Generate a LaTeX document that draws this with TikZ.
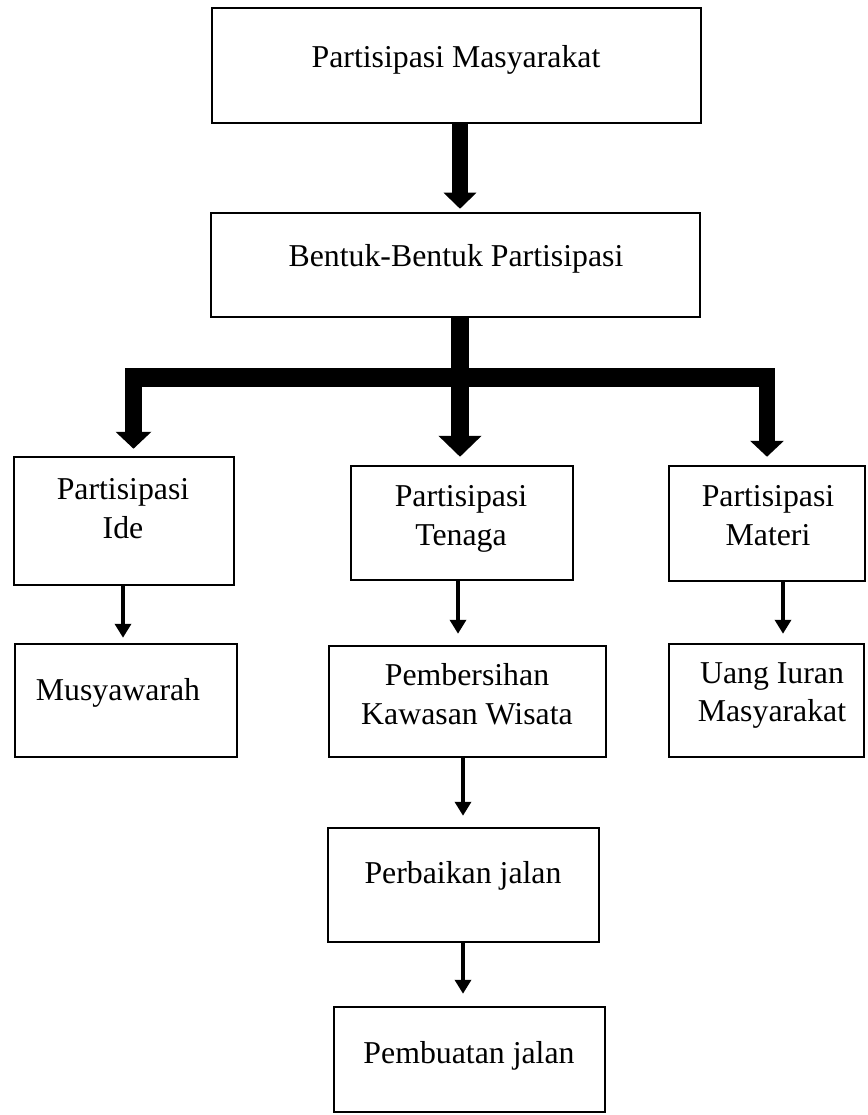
\documentclass[tikz,border=0pt]{standalone}
\usepackage{fontspec}
\setmainfont{Liberation Serif}
\usetikzlibrary{arrows.meta}
\begin{document}
\begin{tikzpicture}[x=1pt,y=-1pt,
  box/.style={draw=black,line width=2.5pt,inner sep=0pt,rectangle},
  txt/.style={inner sep=0pt,align=center,font=\fontsize{31.8}{38.5}\selectfont},
  thin/.style={line width=4pt,-{Triangle[width=16pt,length=14pt]}},
  fat/.style={line width=16pt}
]
\useasboundingbox (0,0) rectangle (867,1115);
% boxes
\node[box,minimum width=489pt,minimum height=115pt] (b1) at (456.5,65.5) {};
\node[box,minimum width=489pt,minimum height=104pt] (b2) at (455.5,265) {};
\node[box,minimum width=220pt,minimum height=128pt] (ide) at (124,521) {};
\node[box,minimum width=222pt,minimum height=114pt] (ten) at (462,523) {};
\node[box,minimum width=196pt,minimum height=115pt] (mat) at (767,523.5) {};
\node[box,minimum width=222pt,minimum height=113pt] (mus) at (126,700.5) {};
\node[box,minimum width=277pt,minimum height=111pt] (pem) at (467.5,701.5) {};
\node[box,minimum width=195pt,minimum height=113pt] (uang) at (766.5,700.5) {};
\node[box,minimum width=271pt,minimum height=114pt] (perb) at (463.5,885) {};
\node[box,minimum width=271pt,minimum height=105pt] (pbt) at (469.5,1059.5) {};
% texts
\node[txt,anchor=base] (t1) at (456,68) {Partisipasi Masyarakat};
\node[txt,anchor=base] (t2) at (456,266) {Bentuk-Bentuk Partisipasi};
\node[txt,anchor=north] (tide) at (123,478.5) {Partisipasi\\Ide};
\node[txt,anchor=north] (tten) at (461,485.5) {Partisipasi\\Tenaga};
\node[txt,anchor=north] (tmat) at (768,485.5) {Partisipasi\\Materi};
\node[txt,anchor=base] (tmus) at (118,700) {Musyawarah};
\node[txt,anchor=north] (tpem) at (467,663.5) {Pembersihan\\Kawasan Wisata};
\node[txt,anchor=north] (tuang) at (772,662) {Uang Iuran\\Masyarakat};
\node[txt,anchor=base] (tperb) at (463,883) {Perbaikan jalan};
\node[txt,anchor=base] (tpbt) at (469,1063) {Pembuatan jalan};
% guide coordinates
\coordinate (xm) at (460,0);
\coordinate (xl) at (133.5,0);
\coordinate (xr) at (767,0);
\coordinate (barL) at (125,377.5);
\coordinate (barR) at (775,377.5);
\coordinate (barM) at (460,377.5);
\coordinate (xa) at (123,0);
\coordinate (xb) at (458,0);
\coordinate (xc) at (783,0);
\coordinate (xd) at (463,0);
% thick connectors
\draw[fat,-{Triangle[width=32pt,length=16pt]}] (b1.south -| xm) -- ([yshift=3pt]b2.north -| xm);
\draw[line width=18pt] (b2.south -| xm) -- (barM);
\draw[line width=19pt] (barL) -- (barR);
\draw[line width=17pt,-{Triangle[width=35pt,length=17pt]}] (barL -| xl) -- ([yshift=7pt]ide.north -| xl);
\draw[line width=18pt,-{Triangle[width=42pt,length=21pt]}] (barM) -- ([yshift=8pt]ten.north -| xm);
\draw[fat,-{Triangle[width=33pt,length=16pt]}] (barR -| xr) -- ([yshift=8pt]mat.north -| xr);
% thin connectors
\draw[thin] (ide.south -| xa) -- ([yshift=5pt]mus.north -| xa);
\draw[thin] (ten.south -| xb) -- ([yshift=11pt]pem.north -| xb);
\draw[thin] (mat.south -| xc) -- ([yshift=9pt]uang.north -| xc);
\draw[thin] (pem.south -| xd) -- ([yshift=11pt]perb.north -| xd);
\draw[thin] (perb.south -| xd) -- ([yshift=12pt]pbt.north -| xd);
\end{tikzpicture}
\end{document}
